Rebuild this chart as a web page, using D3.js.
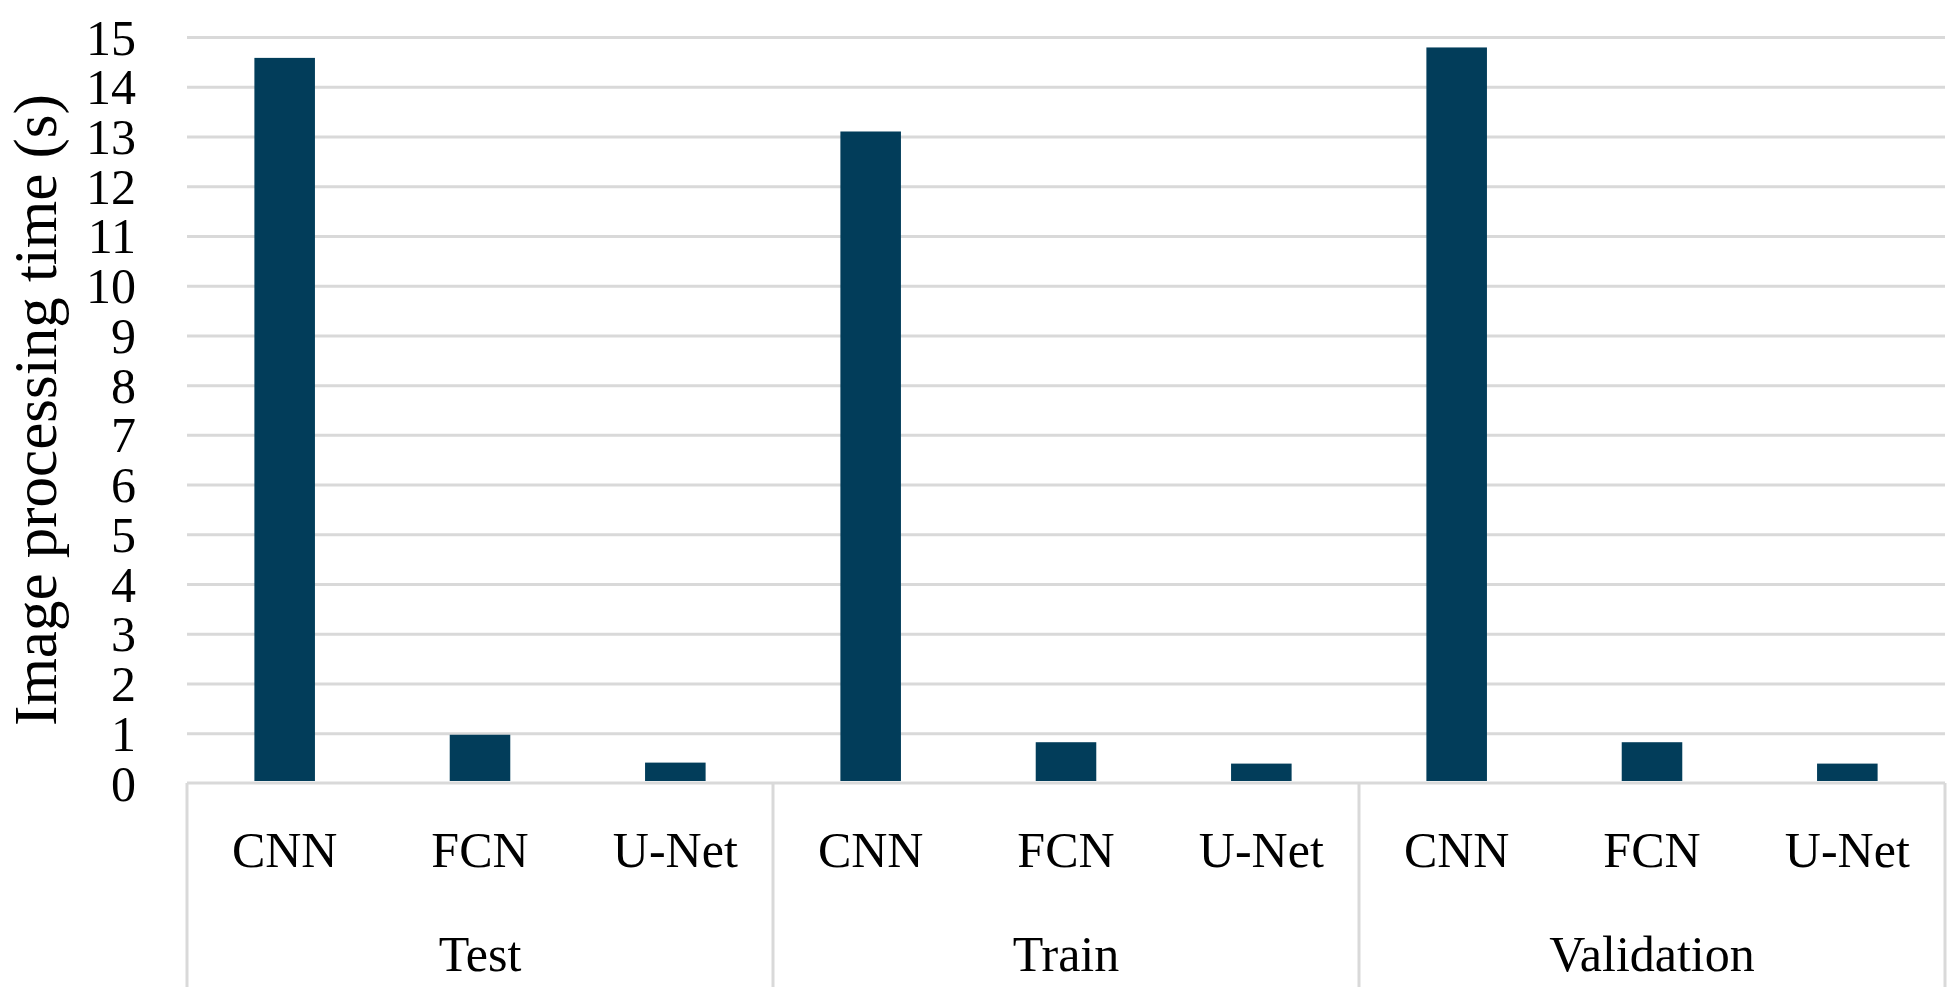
<!DOCTYPE html>
<html>
<head>
<meta charset="utf-8">
<script src="https://cdn.jsdelivr.net/npm/d3@7"></script>
<style>
  body { margin: 0; background: #fff; }
  text { font-family: "Liberation Serif", "Times New Roman", serif; fill: #000; }
</style>
</head>
<body>
<svg id="chart"></svg>
<script>
'use strict'

const splits = ["Test", "Train", "Validation"]
const models = ["CNN", "FCN", "U-Net"]
// image processing time (s), one row per split, in model order
const testTimes = [14.58, 0.97, 0.41]
const trainTimes = [13.1, 0.82, 0.39]
const validationTimes = [14.79, 0.82, 0.39]
const yTicks = [0, 1, 2, 3, 4, 5, 6, 7, 8, 9, 10, 11, 12, 13, 14, 15]

const chartWidth = 1960,
      chartHeight = 1006,
      plotLeft = 187,
      plotRight = 1945,
      plotTop = 37,
      plotBottom = 783,
      gridColor = "#d9d9d9",
      barColor = "#023d5a"

const rows = [testTimes, trainTimes, validationTimes]
const data = []
splits.forEach((s, i) => models.forEach((m, j) => data.push({ split: s, model: m, value: rows[i][j] })))

const svg = d3.select("#chart")
  .attr("width", chartWidth)
  .attr("height", chartHeight)

// outer band per split, inner band per model
const x0 = d3.scaleBand().domain(splits).range([plotLeft, plotRight])
const x1 = d3.scaleBand().domain(models).range([0, x0.bandwidth()])
const barWidth = x1.bandwidth() * 0.31

const y = d3.scaleLinear().domain([0, 15]).range([plotBottom, plotTop])

// horizontal gridlines
svg.append("g")
  .attr("transform", `translate(${plotLeft},0)`)
  .call(d3.axisLeft(y).tickValues(yTicks.slice(1)).tickSize(-(plotRight - plotLeft)).tickFormat(""))
  .call(g => g.select(".domain").remove())
  .call(g => g.selectAll("line").attr("stroke", gridColor).attr("stroke-width", 3))

// y tick labels
svg.append("g")
  .attr("transform", `translate(${plotLeft},0)`)
  .call(d3.axisLeft(y).tickValues(yTicks).tickSize(0).tickPadding(51))
  .call(g => g.select(".domain").remove())
  .call(g => g.selectAll("text").attr("font-size", 50).attr("dy", "0.34em")
    .style("font-family", '"Liberation Serif", serif'))

// bars
svg.append("g")
  .selectAll("rect")
  .data(data)
  .enter().append("rect")
    .attr("x", d => x0(d.split) + x1(d.model) + (x1.bandwidth() - barWidth) / 2)
    .attr("width", barWidth)
    .attr("y", d => y(d.value))
    .attr("height", d => y(0) - y(d.value) - 2)
    .attr("fill", barColor)

// category axis: baseline and separators
const axisG = svg.append("g")
axisG.append("line")
  .attr("x1", plotLeft).attr("x2", plotRight)
  .attr("y1", y(0)).attr("y2", y(0))
  .attr("stroke", gridColor).attr("stroke-width", 3)

const seps = splits.map(s => x0(s)).concat([plotRight])
axisG.selectAll(".sep")
  .data(seps)
  .enter().append("line")
    .attr("class", "sep")
    .attr("x1", d => d).attr("x2", d => d)
    .attr("y1", y(0)).attr("y2", 987)
    .attr("stroke", gridColor).attr("stroke-width", 3)

// model labels
axisG.selectAll(".model")
  .data(data)
  .enter().append("text")
    .attr("class", "model")
    .attr("x", d => x0(d.split) + x1(d.model) + x1.bandwidth() / 2)
    .attr("y", 867)
    .attr("text-anchor", "middle")
    .attr("font-size", 50)
    .text(d => d.model)

// split labels
axisG.selectAll(".split")
  .data(splits)
  .enter().append("text")
    .attr("class", "split")
    .attr("x", d => x0(d) + x0.bandwidth() / 2)
    .attr("y", 971)
    .attr("text-anchor", "middle")
    .attr("font-size", 50)
    .text(d => d)

// y axis title
svg.append("text")
  .attr("transform", `translate(56,${(plotTop + plotBottom) / 2}) rotate(-90)`)
  .attr("text-anchor", "middle")
  .attr("font-size", 61)
  .text("Image processing time (s)")
</script>
</body>
</html>
